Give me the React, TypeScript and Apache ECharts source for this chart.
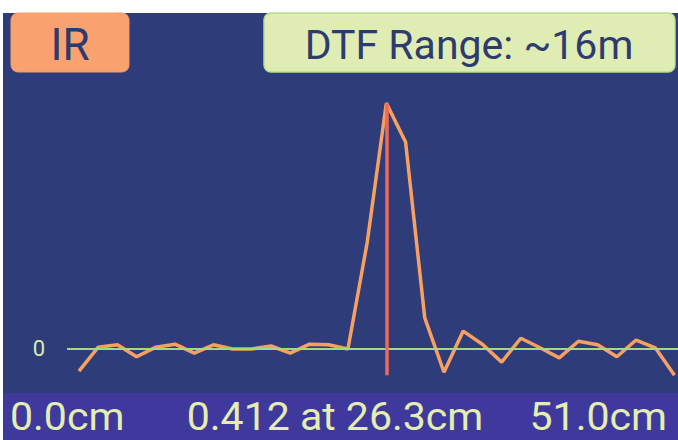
import React, { useEffect, useRef } from "react";
import * as echarts from "echarts";

// ---- data ----
const distanceStartCm = 0.0;
const distanceEndCm = 51.0;
const irValues = [
  -0.037, 0.003, 0.007, -0.013, 0.003, 0.008, -0.007, 0.007, 0.0, 0.0,
  0.005, -0.007, 0.008, 0.007, 0.0, 0.178, 0.412, 0.347, 0.052, -0.039,
  0.03, 0.008, -0.022, 0.018, 0.002, -0.015, 0.013, 0.007, -0.013, 0.015,
  0.002, -0.044,
];
const peakMarkerBottom = -0.044;
const modeLabel = "IR";
const rangeLabel = "DTF Range: ~16m";
const zeroTickLabel = "0";

const step = (distanceEndCm - distanceStartCm) / (irValues.length - 1);
const points = irValues.map((v, i) => [distanceStartCm + i * step, v]);
let peakIdx = 0;
irValues.forEach((v, i) => {
  if (v > irValues[peakIdx]) peakIdx = i;
});
const peakX = points[peakIdx][0];
const peakY = irValues[peakIdx];

const FONT = "Roboto, 'Noto Sans', sans-serif";

export default function App() {
  const ref = useRef<HTMLDivElement>(null);
  useEffect(() => {
    if (!ref.current) return;
    const chart = echarts.init(ref.current, undefined, { renderer: "svg" });
    const bottomText = (text: string, x: number, align: string) => ({
      type: "text",
      x,
      y: 417,
      scaleX: 1.08,
      style: {
        text,
        fontSize: 38,
        lineHeight: 34,
        fontFamily: FONT,
        fill: "#e4eeb0",
        align,
        verticalAlign: "middle",
      },
    });
    chart.setOption({
      animation: false,
      backgroundColor: "#ffffff",
      grid: { left: 67, right: 0, top: 90, bottom: 60 },
      xAxis: {
        type: "value",
        min: -1.028,
        max: 51.3,
        show: false,
      },
      yAxis: {
        type: "value",
        min: -0.052,
        max: 0.434,
        show: false,
      },
      graphic: [
        {
          type: "rect",
          z: -10,
          shape: { x: 3, y: 13, width: 675, height: 380 },
          style: { fill: "#2e3c79" },
        },
        {
          type: "rect",
          z: -10,
          shape: { x: 3, y: 393, width: 675, height: 47 },
          style: { fill: "#3f399d" },
        },
        {
          type: "rect",
          shape: { x: 11, y: 13, width: 118, height: 59, r: 7 },
          style: { fill: "#f9a270", stroke: "#f59a68", lineWidth: 1 },
        },
        {
          type: "text",
          x: 70,
          y: 45,
          style: {
            text: modeLabel,
            fontSize: 44,
            fontFamily: FONT,
            fill: "#2e3b6e",
            align: "center",
            verticalAlign: "middle",
          },
        },
        {
          type: "rect",
          shape: { x: 264, y: 13, width: 411, height: 59, r: 7 },
          style: { fill: "#dfecb4", stroke: "#b9db8c", lineWidth: 1.5 },
        },
        {
          type: "text",
          x: 469,
          y: 45,
          style: {
            text: rangeLabel,
            fontSize: 41,
            fontFamily: FONT,
            fill: "#2e3b6e",
            align: "center",
            verticalAlign: "middle",
          },
        },
        bottomText(distanceStartCm.toFixed(1) + "cm", 10, "left"),
        bottomText(
          peakY.toFixed(3) + " at " + peakX.toFixed(1) + "cm",
          335,
          "center"
        ),
        bottomText(distanceEndCm.toFixed(1) + "cm", 667, "right"),
      ],
      series: [
        {
          type: "line",
          data: points,
          showSymbol: false,
          symbol: "none",
          lineStyle: { color: "#f8a062", width: 3.5 },
          markLine: {
            silent: true,
            symbol: "none",
            data: [
              {
                yAxis: 0,
                lineStyle: { color: "#a6d97c", width: 2, type: "solid" },
                label: {
                  show: true,
                  position: "start",
                  distance: 22,
                  formatter: zeroTickLabel,
                  color: "#d8ecb0",
                  fontSize: 22,
                  fontFamily: FONT,
                },
              },
              [
                {
                  coord: [peakX, peakY],
                  lineStyle: { color: "#f0685a", width: 3.5, type: "solid" },
                  label: { show: false },
                },
                { coord: [peakX, peakMarkerBottom] },
              ],
            ],
          },
          z: 3,
        },
      ],
    });
    return () => chart.dispose();
  }, []);
  return (
    <div
      ref={ref}
      style={{ position: "fixed", left: 0, top: 0, width: 678, height: 440 }}
    />
  );
}
